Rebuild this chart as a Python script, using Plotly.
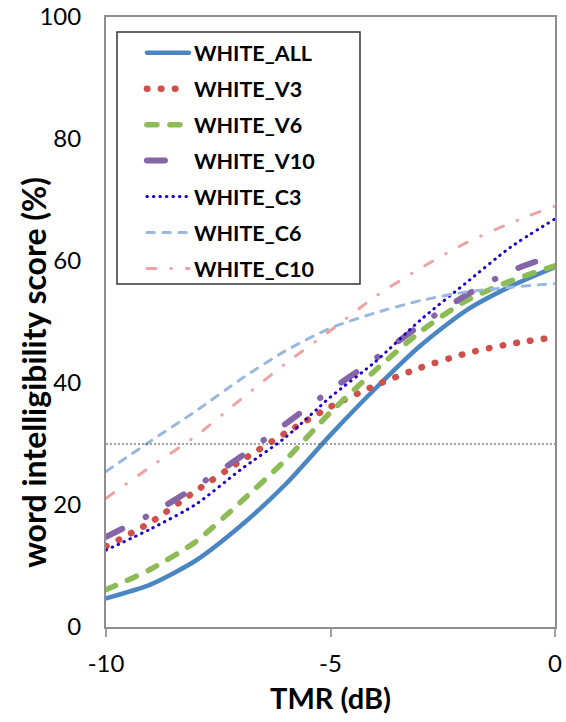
import plotly.graph_objects as go

# ---------------- data ----------------
tmr_db = [-10, -9, -8, -7, -6, -5, -4, -3, -2, -1, 0]

white_all = [4.7, 7.0, 10.9, 16.6, 23.4, 31.5, 39.1, 46.1, 51.8, 55.8, 59.0]
white_v3 = [13.2, 17.2, 22.3, 27.2, 31.8, 36.1, 39.6, 42.5, 44.8, 46.4, 47.5]
white_v6 = [6.1, 9.5, 14.0, 20.5, 27.4, 35.2, 42.1, 48.4, 53.4, 56.7, 59.2]
white_v10 = [14.8, 18.5, 23.0, 27.9, 33.3, 38.8, 44.0, 49.5, 54.3, 58.3, 61.0]
white_c3 = [12.6, 16.1, 20.1, 25.8, 31.1, 37.7, 43.5, 50.3, 56.3, 62.2, 66.9]
white_c6 = [25.5, 30.5, 35.4, 40.6, 45.3, 49.0, 51.5, 53.5, 54.9, 55.7, 56.3]
white_c10 = [21.1, 26.3, 31.3, 37.3, 43.2, 48.6, 54.2, 58.8, 62.9, 66.2, 69.0]

threshold = 30

series_names = ["WHITE_ALL", "WHITE_V3", "WHITE_V6", "WHITE_V10",
                "WHITE_C3", "WHITE_C6", "WHITE_C10"]
series_values = [white_all, white_v3, white_v6, white_v10,
                 white_c3, white_c6, white_c10]

x_ticks = [-10, -5, 0]
y_ticks = [0, 20, 40, 60, 80, 100]

# ---------------- styles (dash arrays assume round line caps) ----------------
styles = [
    dict(color="#4a86c2", width=4.5, dash="solid"),
    dict(color="#cf4f4a", width=6.5, dash="0.5px,13.5px"),
    dict(color="#8dbb55", width=5.5, dash="10px,13px"),
    dict(color="#8664a8", width=6, dash="18px,26px,0.5px,26px"),
    dict(color="#2200c8", width=3, dash="0.5px,6px"),
    dict(color="#9ab8de", width=3, dash="7.5px,8.5px"),
    dict(color="#eca3a3", width=3, dash="9px,15px,0.5px,15px"),
]

FONT = "Lato"

fig = go.Figure()

for i, (name, vals, st) in enumerate(zip(series_names, series_values, styles)):
    fig.add_trace(go.Scatter(
        x=tmr_db, y=vals, name=name, mode="lines",
        line=dict(color=st["color"], width=st["width"], dash=st["dash"],
                  shape="spline", smoothing=0.7),
        legendgroup=f"g{i}",
    ))

# horizontal reference line
fig.add_shape(type="line", xref="x", yref="y",
              x0=tmr_db[0], x1=tmr_db[-1], y0=threshold, y1=threshold,
              line=dict(color="#444444", width=1.2, dash="2px,2px"),
              layer="above")

# legend frame
fig.add_shape(type="rect", xref="paper", yref="paper",
              x0=0.0245, x1=0.5657, y0=0.5623, y1=0.9754,
              line=dict(color="#333333", width=1.5),
              fillcolor="white", layer="below")

fig.update_layout(
    width=566, height=722,
    margin=dict(l=106, r=11, t=17, b=95, autoexpand=False),
    paper_bgcolor="white", plot_bgcolor="white",
    font=dict(family=FONT, color="black"),
    showlegend=True,
    legend=dict(
        x=0.08, y=0.975, xanchor="left", yanchor="top",
        bgcolor="rgba(0,0,0,0)", borderwidth=0,
        font=dict(family=FONT, size=21.5, weight="bold", color="black"),
        tracegroupgap=5, itemwidth=42,
    ),
    xaxis=dict(
        range=[-10, 0], tickvals=x_ticks, ticktext=[str(v) for v in x_ticks],
        showgrid=False, zeroline=False, automargin=False,
        showline=True, linecolor="#8f8f8f", linewidth=2, mirror=True,
        ticks="outside", ticklen=8, tickcolor="#a0a0a0", tickwidth=1.5,
        tickfont=dict(family=FONT, size=24, color="black"),
        ticklabelstandoff=6, ticklabeloverflow="allow",
    ),
    yaxis=dict(
        range=[0, 100], tickvals=y_ticks, ticktext=[str(v) for v in y_ticks],
        showgrid=False, zeroline=False, automargin=False,
        showline=True, linecolor="#8f8f8f", linewidth=2, mirror=True,
        ticks="", tickfont=dict(family=FONT, size=24, color="black"),
        ticklabelstandoff=18, ticklabeloverflow="allow",
    ),
    annotations=[
        dict(text="word intelligibility score (%)", textangle=-90,
             xref="paper", yref="paper", x=-0.163, y=0.418,
             xanchor="center", yanchor="middle", showarrow=False,
             font=dict(family=FONT, size=32, weight="bold", color="black")),
        dict(text="TMR (dB)", xref="paper", yref="paper",
             x=0.5, y=-0.116, xanchor="center", yanchor="middle",
             showarrow=False,
             font=dict(family=FONT, size=29, weight="bold", color="black")),
    ],
)

# remove the default 8px body margin; give data lines round caps (Excel look)
post = """
document.body.style.margin='0';document.body.style.overflow='hidden';
(function(){
  var gd=document.getElementById('{plot_id}');
  function fix(){
    gd.querySelectorAll('.scatterlayer .js-line, .legend .legendlines path')
      .forEach(function(p){p.style.strokeLinecap='round';});
  }
  fix();
  if(gd.on){gd.on('plotly_afterplot',fix);}
  setTimeout(fix,30);
})();
"""

fig.write_html("out.html", config={"displayModeBar": False}, post_script=post)
